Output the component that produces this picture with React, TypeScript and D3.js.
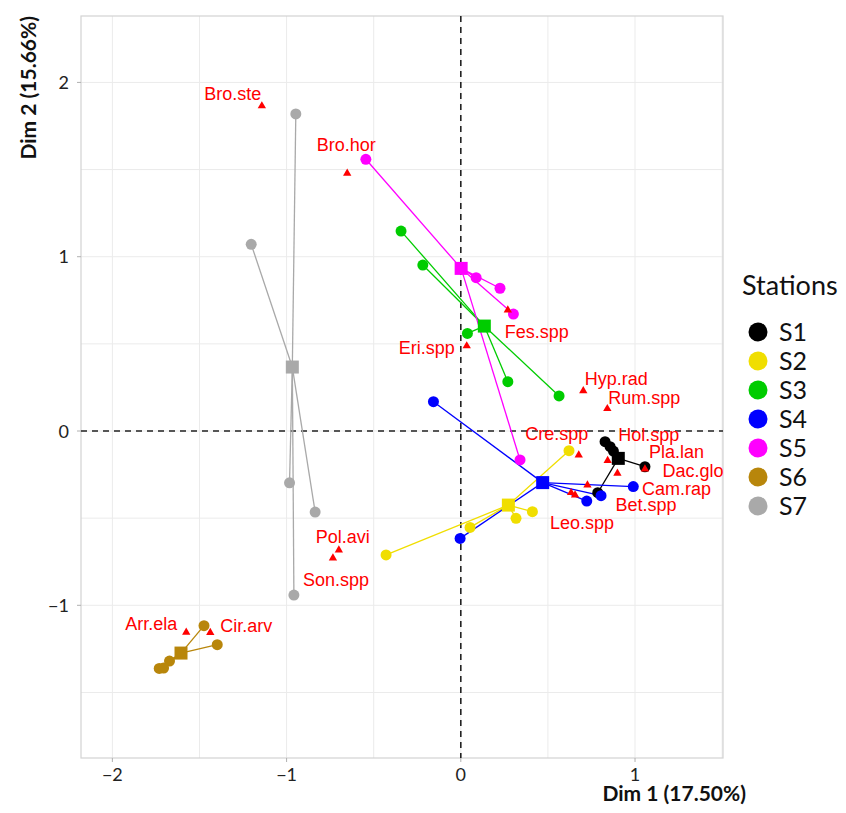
import React from 'react';
import * as d3 from 'd3';

const stations = ['S1', 'S2', 'S3', 'S4', 'S5', 'S6', 'S7'];
const stationColors = ['#000000', '#F0DE00', '#00CC00', '#0000FF', '#FF00FF', '#B8860B', '#A9A9A9'];
const centroidX = [0.904, 0.273, 0.135, 0.47, 0.002, -1.606, -0.967];
const centroidY = [-0.157, -0.425, 0.602, -0.296, 0.933, -1.274, 0.367];

const siteStation = [
  'S1', 'S1', 'S1', 'S1', 'S1',
  'S2', 'S2', 'S2', 'S2', 'S2',
  'S3', 'S3', 'S3', 'S3', 'S3',
  'S4', 'S4', 'S4', 'S4', 'S4',
  'S5', 'S5', 'S5', 'S5', 'S5',
  'S6', 'S6', 'S6', 'S6', 'S6',
  'S7', 'S7', 'S7', 'S7', 'S7',
];
const siteX = [
  0.828, 0.857, 0.876, 1.057, 0.786,
  0.621, 0.411, 0.317, 0.053, -0.429,
  -0.343, -0.218, 0.038, 0.27, 0.564,
  -0.157, -0.004, 0.723, 0.805, 0.99,
  -0.545, 0.088, 0.225, 0.302, 0.34,
  -1.474, -1.398, -1.672, -1.731, -1.706,
  -0.947, -1.203, -0.983, -0.836, -0.958,
];
const siteY = [
  -0.061, -0.09, -0.115, -0.205, -0.354,
  -0.113, -0.463, -0.501, -0.553, -0.711,
  1.147, 0.952, 0.56, 0.283, 0.201,
  0.168, -0.616, -0.402, -0.371, -0.319,
  1.559, 0.88, 0.819, 0.671, -0.166,
  -1.117, -1.226, -1.32, -1.362, -1.36,
  1.819, 1.071, -0.297, -0.465, -0.941,
];

const species = ['Bro.ste', 'Bro.hor', 'Fes.spp', 'Eri.spp', 'Hyp.rad', 'Rum.spp', 'Cre.spp', 'Hol.spp', 'Pla.lan', 'Dac.glo', 'Cam.rap', 'Bet.spp', 'Leo.spp', 'Pol.avi', 'Son.spp', 'Arr.ela', 'Cir.arv'];
const speciesX = [-1.142, -0.652, 0.27, 0.034, 0.703, 0.841, 0.677, 0.843, 0.899, 1.057, 0.727, 0.633, 0.656, -0.7, -0.734, -1.576, -1.438];
const speciesY = [1.865, 1.478, 0.694, 0.488, 0.231, 0.128, -0.138, -0.17, -0.243, -0.218, -0.31, -0.354, -0.367, -0.683, -0.729, -1.155, -1.157];

// label placement (pixel offsets of label centre from its triangle)
const labelDx = [-29, -1, 29, -40, 33, 37, -22, 41, 59, 48, 89, 75, 7, 4, 3, -35, 36];
const labelDy = [-12, -29, 21, 2, -12, -11, -22, -26, -22, 2, 3, 12, 28, -14, 21, -9, -7];

const xTicks = [-2, -1, 0, 1];
const yTicks = [-1, 0, 1, 2];
const xGrid = [-2, -1.5, -1, -0.5, 0, 0.5, 1, 1.5];
const yGrid = [-1.5, -1, -0.5, 0, 0.5, 1, 1.5, 2];

const W = 846;
const H = 813;
const panel = { left: 81, right: 723, top: 16, bottom: 758 };

export default function App() {
  const x = d3.scaleLinear().domain([-2.18, 1.505]).range([panel.left, panel.right]);
  const y = d3.scaleLinear().domain([-1.876, 2.381]).range([panel.bottom, panel.top]);
  const color = d3.scaleOrdinal<string, string>().domain(stations).range(stationColors);
  const tri = d3.symbol().type(d3.symbolTriangle).size(30)() as string;
  const fmt = (v: number) => (v < 0 ? '\u2212' + Math.abs(v) : String(v));
  const sans = 'Lato, "Open Sans", sans-serif';

  return (
    <svg width={W} height={H} style={{ position: 'absolute', left: 0, top: 0, background: '#fff' }}>
      <defs>
        <clipPath id="panel">
          <rect x={panel.left} y={panel.top} width={panel.right - panel.left} height={panel.bottom - panel.top} />
        </clipPath>
      </defs>
      <rect x={0} y={0} width={W} height={H} fill="#fff" />
      {/* grid */}
      <g stroke="#EBEBEB" strokeWidth={1}>
        {xGrid.map((v) => (
          <line key={'gx' + v} x1={x(v)} x2={x(v)} y1={panel.top} y2={panel.bottom} />
        ))}
        {yGrid.map((v) => (
          <line key={'gy' + v} x1={panel.left} x2={panel.right} y1={y(v)} y2={y(v)} />
        ))}
      </g>
      <rect x={panel.left} y={panel.top} width={panel.right - panel.left} height={panel.bottom - panel.top} fill="none" stroke="#D3D3D3" strokeWidth={1.2} />
      {/* ticks */}
      <g stroke="#B0B0B0" strokeWidth={1}>
        {xTicks.map((v) => (
          <line key={'tx' + v} x1={x(v)} x2={x(v)} y1={panel.bottom} y2={panel.bottom + 4} />
        ))}
        {yTicks.map((v) => (
          <line key={'ty' + v} x1={panel.left - 4} x2={panel.left} y1={y(v)} y2={y(v)} />
        ))}
      </g>
      <g fontFamily={sans} fontSize={18} fill="#222">
        {xTicks.map((v) => (
          <text key={'lx' + v} x={x(v)} y={panel.bottom + 23} textAnchor="middle">{fmt(v)}</text>
        ))}
        {yTicks.map((v) => (
          <text key={'ly' + v} x={panel.left - 12} y={y(v) + 6.5} textAnchor="end">{fmt(v)}</text>
        ))}
      </g>
      <text x={746} y={801} textAnchor="end" fontFamily={sans} fontWeight="bold" fontSize={21} fill="#111">Dim 1 (17.50%)</text>
      <text transform={`translate(36,16) rotate(-90)`} textAnchor="end" fontFamily={sans} fontWeight="bold" fontSize={21} fill="#111">Dim 2 (15.66%)</text>

      <g clipPath="url(#panel)">
        {/* zero lines */}
        <line x1={x(0)} x2={x(0)} y1={panel.top} y2={panel.bottom} stroke="#222" strokeWidth={1.6} strokeDasharray="6,5" />
        <line x1={panel.left} x2={panel.right} y1={y(0)} y2={y(0)} stroke="#222" strokeWidth={1.6} strokeDasharray="6,5" />
        {/* spider lines */}
        {siteX.map((sx, i) => {
          const si = stations.indexOf(siteStation[i]);
          return (
            <line key={'sl' + i} x1={x(centroidX[si])} y1={y(centroidY[si])} x2={x(sx)} y2={y(siteY[i])} stroke={color(siteStation[i])} strokeWidth={1.3} />
          );
        })}
        {/* sites */}
        {siteX.map((sx, i) => (
          <circle key={'sp' + i} cx={x(sx)} cy={y(siteY[i])} r={5.5} fill={color(siteStation[i])} />
        ))}
        {/* centroids */}
        {stations.map((s, i) => (
          <rect key={'c' + s} x={x(centroidX[i]) - 6.5} y={y(centroidY[i]) - 6.5} width={13} height={13} fill={color(s)} />
        ))}
        {/* species */}
        {species.map((s, i) => (
          <path key={'t' + s} d={tri} transform={`translate(${x(speciesX[i])},${y(speciesY[i])})`} fill="#FF0000" />
        ))}
        {species.map((s, i) => (
          <text key={'st' + s} x={x(speciesX[i]) + labelDx[i]} y={y(speciesY[i]) + labelDy[i]} dy="0.36em" textAnchor="middle" fontFamily='"Liberation Sans", Arial, sans-serif' fontSize={18} fill="#FF0000">{s}</text>
        ))}
      </g>

      {/* legend */}
      <text x={742} y={295} fontFamily={sans} fontSize={27} fill="#111">Stations</text>
      {stations.map((s, i) => (
        <g key={'lg' + s} transform={`translate(0,${332 + i * 29})`}>
          <circle cx={758} cy={0} r={9.5} fill={color(s)} />
          <text x={779} y={0} dy="0.36em" fontFamily={sans} fontSize={25} fill="#111">{s}</text>
        </g>
      ))}
    </svg>
  );
}
